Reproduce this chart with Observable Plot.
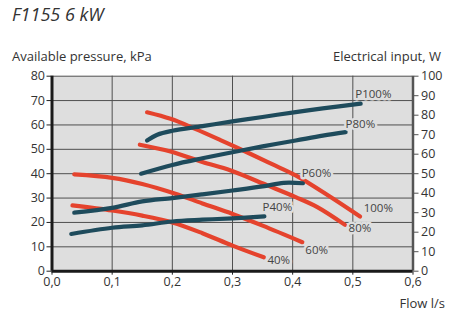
<!DOCTYPE html>
<html><head><meta charset="utf-8">
<script src="https://cdn.jsdelivr.net/npm/d3@7"></script>
<script src="https://cdn.jsdelivr.net/npm/@observablehq/plot@0.6"></script>
<style>
body{margin:0;background:#fff;font-family:"Open Sans",sans-serif;color:#333}
#wrap{position:relative;width:465px;height:325px}
#wrap svg{position:absolute;left:0;top:0}
.t{position:absolute;white-space:nowrap;z-index:2;line-height:1}
</style></head><body>
<div id="wrap">
<div class="t" style="left:12px;top:5px;font-size:18px;font-style:italic">F1155 6 kW</div>
<div class="t" style="left:12px;top:50px;font-size:13px">Available pressure, kPa</div>
<div class="t" style="right:24px;top:50px;font-size:13px">Electrical input, W</div>
<div class="t" style="right:20px;top:297px;font-size:13px">Flow l/s</div>
</div>
<script>
// Available pressure (kPa) vs flow (l/s)
const pressure100 = [[0.158,65.2],[0.197,62.5],[0.238,58.4],[0.28,53.8],[0.324,48.8],[0.365,44.0],[0.405,39.3],[0.463,30.4],[0.512,22.4]];
const pressure80  = [[0.146,51.9],[0.197,49.1],[0.25,44.8],[0.297,41.3],[0.358,35.2],[0.405,30.4],[0.441,26.3],[0.487,19.0]];
const pressure60  = [[0.037,39.7],[0.1,38.3],[0.15,35.8],[0.205,31.8],[0.25,27.8],[0.3,23.5],[0.35,18.7],[0.416,11.9]];
const pressure40  = [[0.034,27.0],[0.1,24.9],[0.15,22.8],[0.2,20.0],[0.25,15.6],[0.3,10.5],[0.352,5.7]];
// Electrical input (W) vs flow (l/s)
const power100 = [[0.158,67.0],[0.175,70.0],[0.2,72.0],[0.25,74.4],[0.3,76.8],[0.35,79.1],[0.405,81.6],[0.45,83.5],[0.513,85.9]];
const power80  = [[0.148,50.0],[0.2,54.5],[0.25,57.9],[0.3,61.0],[0.35,64.0],[0.405,67.0],[0.45,69.5],[0.488,71.3]];
const power60  = [[0.037,30.0],[0.1,32.5],[0.15,35.8],[0.2,37.5],[0.25,39.4],[0.3,41.4],[0.35,43.5],[0.385,45.3],[0.417,45.1]];
const power40  = [[0.032,19.1],[0.1,22.3],[0.15,23.5],[0.2,25.5],[0.25,26.4],[0.3,27.1],[0.353,28.1]];
// Curve labels (flow, kPa)
const labelText = ["P100%","P80%","P60%","P40%","100%","80%","60%","40%"];
const labelFlow = [0.504,0.488,0.415,0.35,0.518,0.493,0.421,0.358];
const labelKPa  = [72.5,60.2,40.2,26.3,25.7,17.5,8.5,4.6];
// Ticks
const flowTicks = [0,0.1,0.2,0.3,0.4,0.5,0.6];
const kPaTicks = [0,10,20,30,40,50,60,70,80];
const wattTicks = [0,10,20,30,40,50,60,70,80,90,100];

const W_PER_KPA = 100/80;
const red = "#e5432d", teal = "#1e4b5c", bg = "#dedede", grid = "#4f4f4f";
const labels = labelText.map((t,i)=>({t, x:labelFlow[i], y:labelKPa[i]}));
const lineOpts = {x:d=>d[0], y:d=>d[1], strokeWidth:4.2, strokeLinecap:"round", curve:"catmull-rom"};
const pLine = (data)=>Plot.line(data,{...lineOpts, stroke:teal, y:d=>d[1]/W_PER_KPA});
const rLine = (data)=>Plot.line(data,{...lineOpts, stroke:red});

const chart = Plot.plot({
  width:465, height:325,
  marginLeft:51.5, marginRight:52.5, marginTop:75.7, marginBottom:54.3,
  style:{fontFamily:"Open Sans, sans-serif", fontSize:"12.5px", color:"#333", background:"transparent"},
  x:{domain:[0,0.6]},
  y:{domain:[0,80]},
  marks:[
    Plot.frame({fill:bg, stroke:null}),
    Plot.ruleX(flowTicks.slice(1,-1),{stroke:grid, strokeWidth:1}),
    Plot.ruleY(kPaTicks.slice(1),{stroke:grid, strokeWidth:1}),
    rLine(pressure100), rLine(pressure80), rLine(pressure60), rLine(pressure40),
    pLine(power100), pLine(power80), pLine(power60), pLine(power40),
    Plot.text(labels,{x:"x", y:"y", text:"t", textAnchor:"start", fill:"#444", stroke:bg, strokeWidth:5, fontSize:11.5, paintOrder:"stroke"}),
    Plot.axisY({ticks:kPaTicks, tickSize:5, tickPadding:2, label:null, stroke:"#222", fill:"#333"}),
    Plot.axisX({ticks:flowTicks, tickSize:4, tickPadding:2, label:null, tickFormat:d=>d.toFixed(1).replace(".",","), stroke:"#222", fill:"#333"}),
    Plot.axisY({anchor:"right", ticks:wattTicks.map(w=>w/W_PER_KPA), tickFormat:d=>String(Math.round(d*W_PER_KPA)), tickSize:5, tickPadding:3, label:null, stroke:"#555", fill:"#333"}),
    Plot.ruleX([0.6],{stroke:"#555", strokeWidth:2.5}),
    Plot.ruleX([0],{stroke:"#1a1a1a", strokeWidth:3}),
    Plot.ruleY([0],{stroke:"#1a1a1a", strokeWidth:3})
  ]
});
document.getElementById("wrap").appendChild(chart);
</script>
</body></html>
